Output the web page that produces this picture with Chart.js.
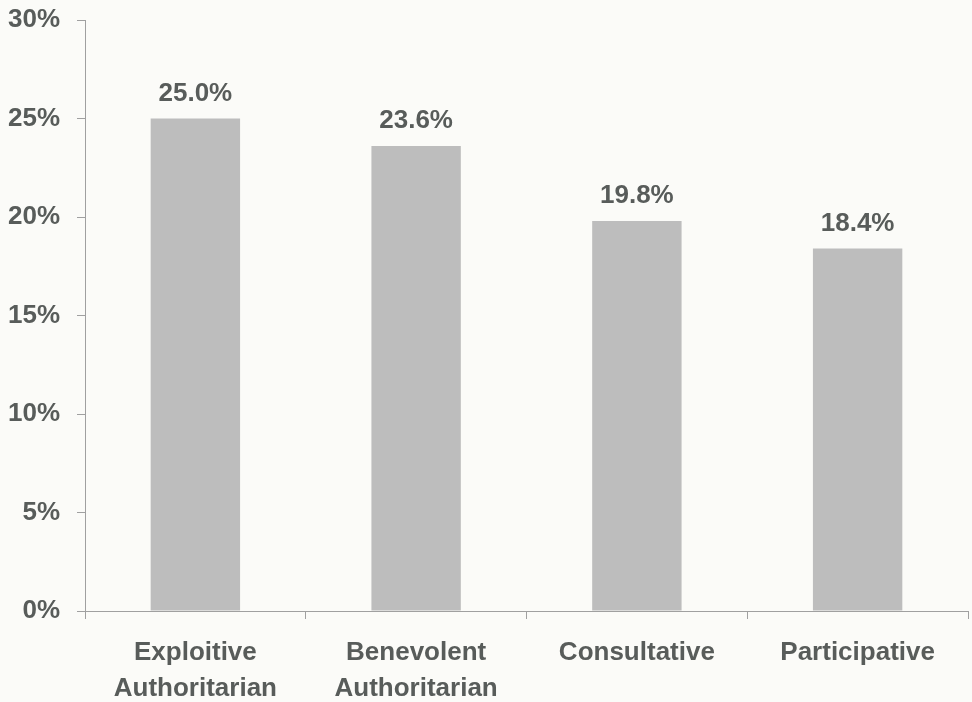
<!DOCTYPE html>
<html>
<head>
<meta charset="utf-8">
<script src="https://cdn.jsdelivr.net/npm/chart.js@4"></script>
<style>
  html, body { margin: 0; padding: 0; background: #fbfbf8; }
  #wrap { width: 972px; height: 702px; position: relative; }
</style>
</head>
<body>
<div id="wrap"><canvas id="styleChart"></canvas></div>
<script>
const categories = [['Exploitive', 'Authoritarian'], ['Benevolent', 'Authoritarian'], 'Consultative', 'Participative'];
const shares = [25.0, 23.6, 19.8, 18.4];
const yTicks = [0, 5, 10, 15, 20, 25, 30];

const textColor = '#585c5a';
const axisColor = '#a0a0a0';
const fontFamily = '"Liberation Sans", Arial, sans-serif';

// value labels drawn above each bar
const barLabels = {
    id: 'barLabels',
    afterDatasetsDraw(chart) {
        const ctx = chart.ctx;
        const meta = chart.getDatasetMeta(0);
        ctx.save();
        ctx.fillStyle = textColor;
        ctx.font = 'bold 26px ' + fontFamily;
        ctx.textAlign = 'center';
        ctx.textBaseline = 'alphabetic';
        meta.data.forEach((bar, i) => {
            ctx.fillText(shares[i].toFixed(1) + '%', bar.x, bar.y - 18);
        });
        ctx.restore();
    }
};

const ctx = document.getElementById('styleChart').getContext('2d');
new Chart(ctx, {
    type: 'bar',
    data: {
        labels: categories,
        datasets: [{
            data: shares,
            backgroundColor: '#bdbdbd',
            borderWidth: 0,
            categoryPercentage: 1.0,
            barPercentage: 0.405
        }]
    },
    options: {
        responsive: true,
        maintainAspectRatio: false,
        animation: false,
        layout: { padding: { top: 20, right: 4, left: 0, bottom: 0 } },
        plugins: {
            legend: { display: false },
            tooltip: { enabled: false }
        },
        scales: {
            y: {
                min: 0,
                max: 30,
                afterBuildTicks: (scale) => { scale.ticks = yTicks.map(v => ({ value: v })); },
                afterFit: (scale) => {
                    scale.width = 85;
                    scale.paddingTop = 0;
                    scale.paddingBottom = 0;
                },
                border: { color: axisColor, width: 1 },
                grid: { drawOnChartArea: false, color: axisColor, tickLength: 8 },
                ticks: {
                    color: textColor,
                    padding: 17,
                    font: { family: fontFamily, size: 26, weight: 'bold' },
                    callback: (v) => v + '%'
                }
            },
            x: {
                afterFit: (scale) => { scale.height = 91; },
                border: { color: axisColor, width: 1 },
                grid: { drawOnChartArea: false, color: axisColor, tickLength: 8, offset: true },
                ticks: {
                    color: textColor,
                    padding: 16,
                    maxRotation: 0,
                    font: { family: fontFamily, size: 26, weight: 'bold', lineHeight: 1.38 }
                }
            }
        }
    },
    plugins: [barLabels]
});
</script>
</body>
</html>
